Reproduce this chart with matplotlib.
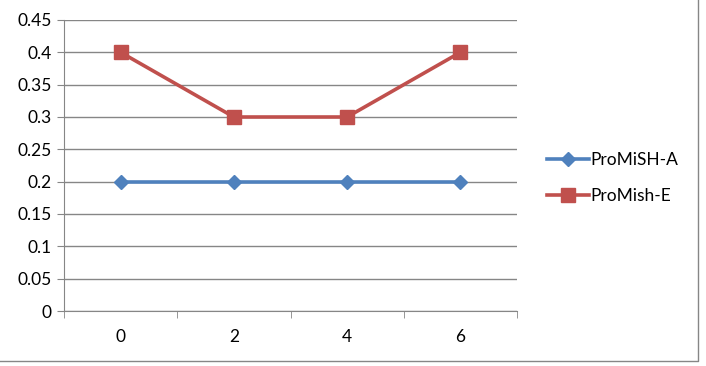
import matplotlib.pyplot as plt
from matplotlib.lines import Line2D

categories = ["0", "2", "4", "6"]
promish_a = [0.2, 0.2, 0.2, 0.2]
promish_e = [0.4, 0.3, 0.3, 0.4]
yticks = [0, 0.05, 0.1, 0.15, 0.2, 0.25, 0.3, 0.35, 0.4, 0.45]
ytick_labels = ["0", "0.05", "0.1", "0.15", "0.2", "0.25", "0.3", "0.35", "0.4", "0.45"]

plt.rcParams["font.family"] = ["Lato", "DejaVu Sans"]

fig = plt.figure(figsize=(7.06, 3.66), dpi=100)
ax = fig.add_axes([64 / 706, 55 / 366, 453 / 706, 291 / 366])

x = list(range(len(categories)))
ax.plot(x, promish_a, color="#4F81BD", lw=2.6, marker="D", ms=7,
        label="ProMiSH-A", zorder=3)
ax.plot(x, promish_e, color="#C0504D", lw=2.6, marker="s", ms=10,
        label="ProMish-E", zorder=3)

grid = "#868686"
ax.set_xlim(-0.5, len(categories) - 0.5)
ax.set_ylim(0, 0.45)
ax.set_yticks(yticks)
ax.set_yticklabels(ytick_labels)
ax.set_xticks(x)
ax.set_xticklabels(categories)
ax.set_xticks([i - 0.5 for i in range(len(categories) + 1)], minor=True)
ax.tick_params(axis="x", which="major", length=0, pad=13, labelsize=12.5)
ax.tick_params(axis="x", which="minor", length=5, color=grid, direction="out")
ax.tick_params(axis="y", length=5, color=grid, labelsize=12.5, pad=4)
ax.yaxis.grid(True, color=grid, lw=1)
ax.set_axisbelow(True)
for s in ["top", "right"]:
    ax.spines[s].set_visible(False)
for s in ["left", "bottom"]:
    ax.spines[s].set_color(grid)

ax.legend(loc="center left", bbox_to_anchor=(1.066, 0.457), frameon=False,
          fontsize=12.5, handlelength=2.4, labelspacing=1.15, handletextpad=0.1,
          borderpad=0, borderaxespad=0)

# outer chart border (only bottom and right edges visible)
bx, by = 697.5 / 706, 5.5 / 366
fig.lines.append(Line2D([0, bx, bx], [by, by, 1], transform=fig.transFigure,
                        color="#868686", lw=1))

fig.savefig("out.png", dpi=100)
